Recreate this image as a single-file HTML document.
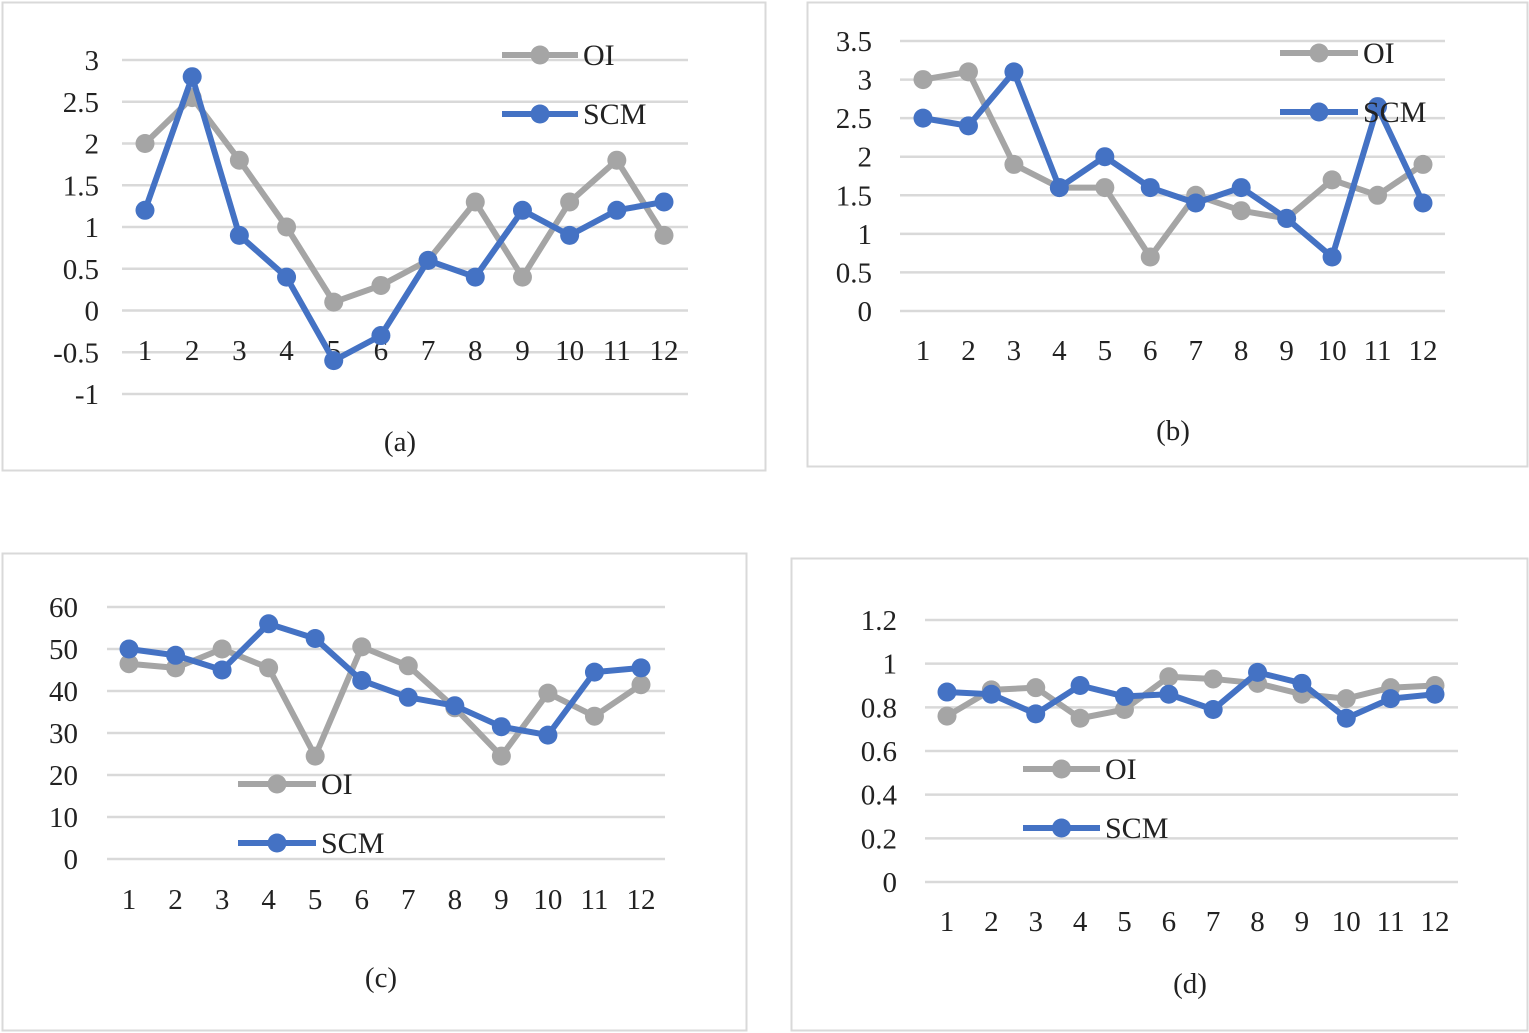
<!DOCTYPE html>
<html><head><meta charset="utf-8"><style>
html,body{margin:0;padding:0;background:#fff;}
svg{display:block;font-family:"Liberation Serif",serif;}
</style></head><body>
<svg id="chart" width="1529" height="1033" viewBox="0 0 1529 1033" xmlns="http://www.w3.org/2000/svg"></svg>
<script>
const categories = [1,2,3,4,5,6,7,8,9,10,11,12];
const oiA = [2,2.55,1.8,1,0.1,0.3,0.6,1.3,0.4,1.3,1.8,0.9];
const scmA = [1.2,2.8,0.9,0.4,-0.6,-0.3,0.6,0.4,1.2,0.9,1.2,1.3];
const ticksA = [-1,-0.5,0,0.5,1,1.5,2,2.5,3];
const oiB = [3,3.1,1.9,1.6,1.6,0.7,1.5,1.3,1.2,1.7,1.5,1.9];
const scmB = [2.5,2.4,3.1,1.6,2,1.6,1.4,1.6,1.2,0.7,2.65,1.4];
const ticksB = [0,0.5,1,1.5,2,2.5,3,3.5];
const oiC = [46.5,45.5,50,45.5,24.5,50.5,46,36,24.5,39.5,34,41.5];
const scmC = [50,48.5,45,56,52.5,42.5,38.5,36.5,31.5,29.5,44.5,45.5];
const ticksC = [0,10,20,30,40,50,60];
const oiD = [0.76,0.88,0.89,0.75,0.79,0.94,0.93,0.91,0.86,0.84,0.89,0.9];
const scmD = [0.87,0.86,0.77,0.9,0.85,0.86,0.79,0.96,0.91,0.75,0.84,0.86];
const ticksD = [0,0.2,0.4,0.6,0.8,1,1.2];

const NS="http://www.w3.org/2000/svg";
const svg=document.getElementById('chart');
function mk(tag,attrs,parent){const e=document.createElementNS(NS,tag);for(const k in attrs)e.setAttribute(k,attrs[k]);(parent||svg).appendChild(e);return e;}

const panels=[
 {id:'a',box:[2,2,763,468],gx0:122,gx1:688,x0:145,x1:664,v0:-1,y0:394,v1:3,y1:60,ticks:ticksA,oi:oiA,scm:scmA,xl:350,lab:[400,441],leg:[502,578,55,114],tx:99},
 {id:'b',box:[807,2,720,464],gx0:900,gx1:1445,x0:923,x1:1423,v0:0,y0:311,v1:3.5,y1:41,ticks:ticksB,oi:oiB,scm:scmB,xl:350,lab:[1173,430],leg:[1280,1358,53,112],tx:872},
 {id:'c',box:[2,553,744,477],gx0:107,gx1:665,x0:129,x1:641,v0:0,y0:859,v1:60,y1:607,ticks:ticksC,oi:oiC,scm:scmC,xl:899,lab:[381,977],leg:[238,316,784,843],tx:78},
 {id:'d',box:[791,558,736,472],gx0:925,gx1:1458,x0:947,x1:1435,v0:0,y0:882,v1:1.2,y1:620,ticks:ticksD,oi:oiD,scm:scmD,xl:921,lab:[1190,983],leg:[1023,1100,769,828],tx:897}
];

panels.forEach(p=>{
 const g=mk('g',{});
 
 
 const b=mk('rect',{x:p.box[0]+0.5,y:p.box[1]+0.5,width:p.box[2],height:p.box[3],fill:'#fff',stroke:'#d9d9d9','stroke-width':2},g);
 
 
 const ys=v=>p.y0+(v-p.v0)*(p.y1-p.y0)/(p.v1-p.v0);
 const xs=i=>p.x0+i*(p.x1-p.x0)/(categories.length-1);
 p.ticks.forEach(t=>{
  const l=mk('line',{x1:p.gx0,x2:p.gx1,y1:ys(t),y2:ys(t),stroke:'#d9d9d9','stroke-width':2.5},g);
  
  
  const tx=mk('text',{x:p.tx,y:ys(t)+10,'text-anchor':'end','font-size':29,fill:'#222'},g);
  tx.textContent=String(t);
  
  
 });
 categories.forEach((c,i)=>{
  const tx=mk('text',{x:xs(i),y:p.xl+10,'text-anchor':'middle','font-size':29,fill:'#222'},g);
  tx.textContent=String(c);
  
  
 });
 [['oi',p.oi,'#a5a5a5'],['scm',p.scm,'#4472c4']].forEach(([n,arr,col])=>{
  const pl=mk('polyline',{points:arr.map((v,i)=>xs(i)+','+ys(v)).join(' '),fill:'none',stroke:col,'stroke-width':6,'stroke-linejoin':'round'},g);
  
  
  arr.forEach((v,i)=>{
   const c=mk('circle',{cx:xs(i),cy:ys(v),r:9.5,fill:col},g);
   
   
  });
 });
 const L=p.leg;
 [['OI','#a5a5a5',L[2]],['SCM','#4472c4',L[3]]].forEach(([n,col,y])=>{
  const lg=mk('g',{},g);
  
  
  mk('line',{x1:L[0],x2:L[1],y1:y,y2:y,stroke:col,'stroke-width':6},lg);
  mk('circle',{cx:(L[0]+L[1])/2,cy:y,r:9.5,fill:col},lg);
  const t=mk('text',{x:L[1]+5,y:y+10,'font-size':30,fill:'#222'},lg);
  t.textContent=n;
 });
 const lab=mk('text',{x:p.lab[0],y:p.lab[1]+10,'text-anchor':'middle','font-size':29,fill:'#222'},g);
 lab.textContent='('+p.id+')';
 
 
});
</script>
</body></html>
